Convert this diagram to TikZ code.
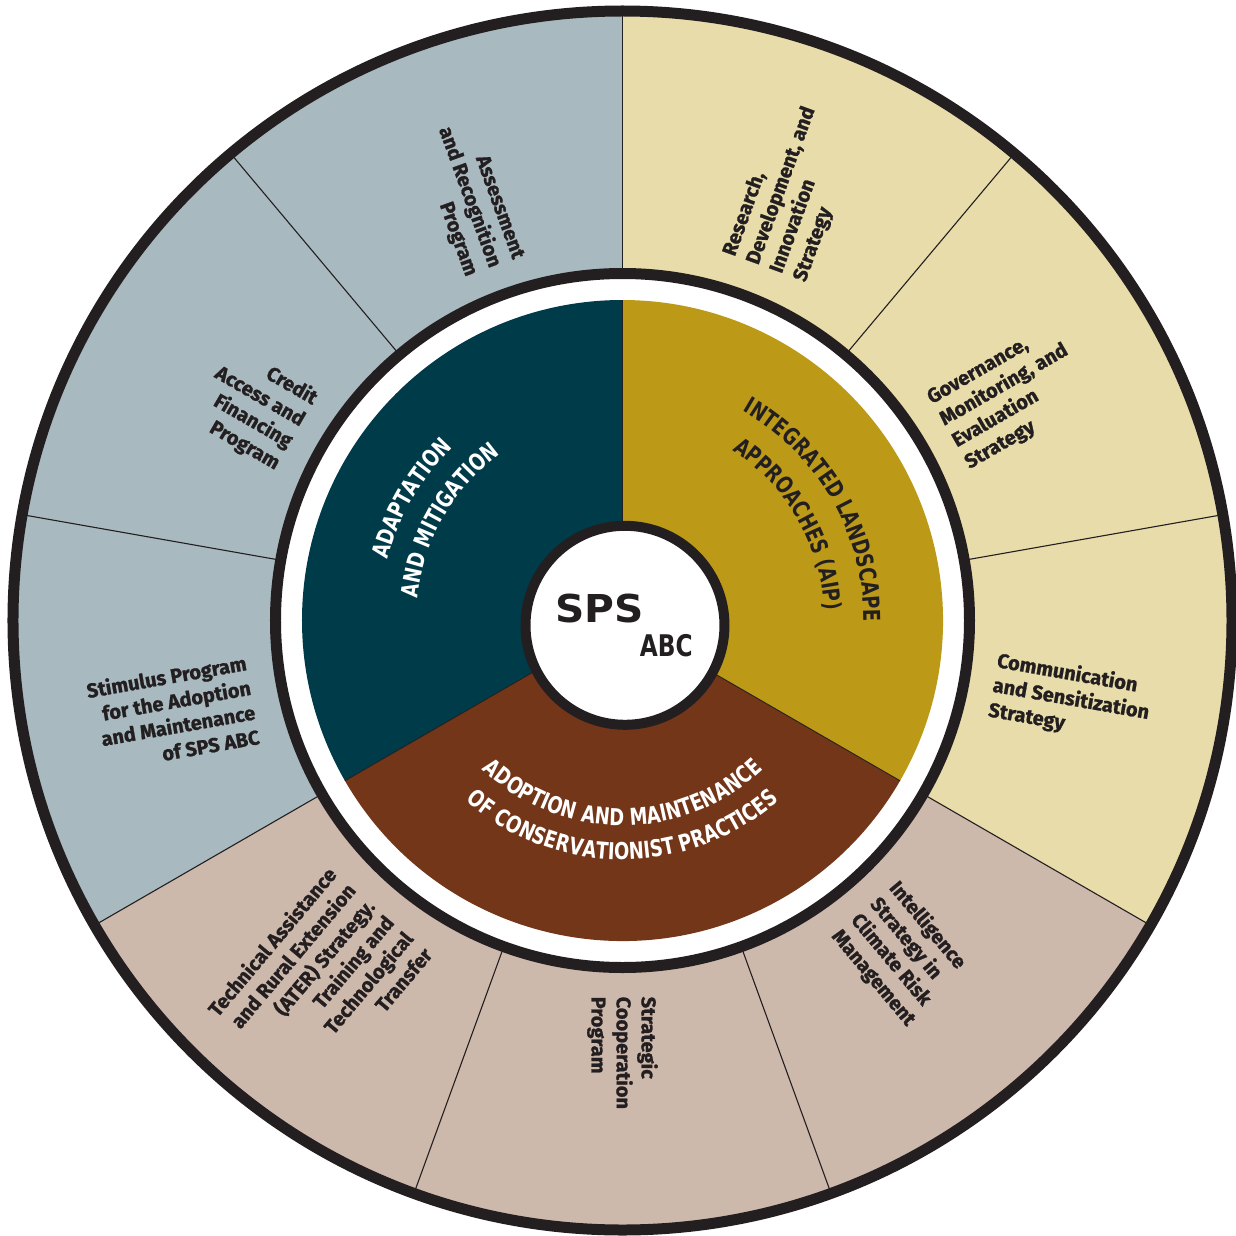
\documentclass[tikz,border=0pt]{standalone}
\usepackage{fontspec}
\usetikzlibrary{decorations.text}
\newfontfamily\lblfont{Fira Sans}[BoldFeatures={FakeBold=1.1}]
\newfontfamily\capfont{DejaVu Sans}[FakeStretch=0.77]
\newfontfamily\spsfont{DejaVu Sans}[FakeStretch=1.06]
\newfontfamily\abcfont{DejaVu Sans}[FakeStretch=0.78]
\definecolor{dark}{HTML}{231F20}
\definecolor{ringblue}{HTML}{A8B9BF}
\definecolor{ringyellow}{HTML}{E8DCAA}
\definecolor{ringpink}{HTML}{CDB8AC}
\definecolor{coreteal}{HTML}{003B4A}
\definecolor{coregold}{HTML}{BC9A17}
\definecolor{corebrown}{HTML}{733619}
\begin{document}
\begin{tikzpicture}[x=1pt,y=1pt,
  outerlbl/.style={font=\lblfont\bfseries\fontsize{20}{25}\selectfont, text=dark, inner sep=0pt},
  thinline/.style={draw=dark, line width=1.1pt},
  arctext/.style={decorate, decoration={text along path, text align=center, text color=#1}}]
\useasboundingbox (-622.5,-614.5) rectangle (613.5,620.5);
% outer sectors
\foreach \a/\c in {90/ringblue,130/ringblue,170/ringblue,210/ringpink,250/ringpink,290/ringpink,330/ringyellow,10/ringyellow,50/ringyellow}
  \fill[\c] (0,0) -- (\a:612) arc[start angle=\a, delta angle=40, radius=612] -- cycle;
\foreach \a in {10,50,90,130,170,210,250,290,330}
  \draw[thinline] (\a:347) -- (\a:609);
% white gap and black ring
\fill[white] (0,0) circle[radius=347];
\draw[dark, line width=11pt] (0,0) circle[radius=347];
\draw[dark, line width=11pt] (0,0) circle[radius=609.5];
% inner sectors
\fill[coreteal] (0,0) -- (90:320.5) arc[start angle=90, delta angle=120, radius=320.5] -- cycle;
\fill[corebrown] (0,0) -- (210:320.5) arc[start angle=210, delta angle=120, radius=320.5] -- cycle;
\fill[coregold] (0,0) -- (330:320.5) arc[start angle=330, delta angle=120, radius=320.5] -- cycle;
\foreach \a in {90,210,330}
  \draw[draw=dark, line width=0.9pt] (0,0) -- (\a:320.5);
% centre
\draw[dark, fill=white, line width=10pt] (2.5,-4.8) circle[radius=99.5];
\node[font=\spsfont\bfseries\fontsize{38.4}{39}\selectfont, text=dark, inner sep=0pt] (sps) at (-22.8,12.2) {SPS};
\node[font=\abcfont\bfseries\fontsize{29.8}{30}\selectfont, text=dark, inner sep=0pt] (abc) at (43.8,-25.2) {ABC};
% inner arc texts
\path[arctext=white, decoration={text={|\capfont\bfseries\fontsize{23.3}{28}\selectfont|ADAPTATION}}]
  (180:242.5) arc[start angle=180, end angle=120, radius=242.5];
\path[arctext=white, decoration={text={|\capfont\bfseries\fontsize{23.3}{28}\selectfont|AND MITIGATION}}]
  (185:206.5) arc[start angle=185, end angle=115, radius=206.5];
\path[arctext=dark, decoration={text={|\capfont\bfseries\fontsize{23.3}{28}\selectfont|INTEGRATED LANDSCAPE}}]
  (70:241.5) arc[start angle=70, end angle=-10, radius=241.5];
\path[arctext=dark, decoration={text={|\capfont\bfseries\fontsize{23.3}{28}\selectfont|APPROACHES (AIP)}}]
  (70:202.5) arc[start angle=70, end angle=-10, radius=202.5];
\path[arctext=white, decoration={text={|\capfont\bfseries\fontsize{23.3}{28}\selectfont|ADOPTION AND MAINTENANCE}}]
  (215:205) arc[start angle=215, end angle=325, radius=205];
\path[arctext=white, decoration={text={|\capfont\bfseries\fontsize{23.3}{28}\selectfont|OF CONSERVATIONIST PRACTICES}}]
  (215:239) arc[start angle=215, end angle=325, radius=239];
% outer labels
\node[outerlbl, anchor=east, rotate=-70, align=right] (l1) at (110:376) {Assessment\\and Recognition\\Program};
\node[outerlbl, anchor=east, rotate=-30, align=right] (l2) at (150:376) {Credit\\Access and\\Financing\\Program};
\node[outerlbl, anchor=east, rotate=10, align=right] (l3) at (192:378) {Stimulus Program\\for the Adoption\\and Maintenance\\of SPS ABC};
\node[outerlbl, anchor=east, rotate=50, align=right] (l4) at (230:378) {Technical Assistance\\and Rural Extension\\(ATER) Strategy.\\Training and\\Technological\\Transfer};
\node[outerlbl, anchor=west, rotate=-90, align=left] (l5) at (270:376) {Strategic\\Cooperation\\Program};
\node[outerlbl, anchor=west, rotate=-50, align=left] (l6) at (310:376) {Intelligence\\Strategy in\\Climate Risk\\Management};
\node[outerlbl, anchor=west, rotate=-10, align=left] (l7) at (350:376) {Communication\\and Sensitization\\Strategy};
\node[outerlbl, anchor=west, rotate=30, align=left] (l8) at (30:376) {Governance,\\Monitoring, and\\Evaluation\\Strategy};
\node[outerlbl, anchor=west, rotate=70, align=left] (l9) at (68:380) {Research,\\Development, and\\Innovation\\Strategy};
\end{tikzpicture}
\end{document}
